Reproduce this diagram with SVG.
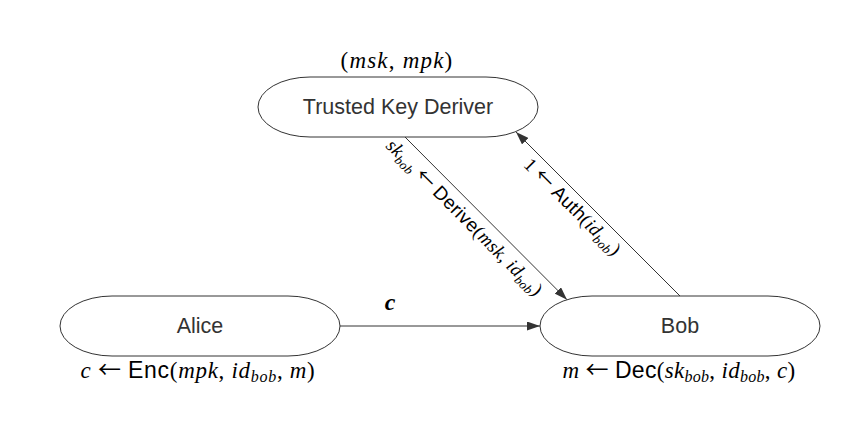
<svg xmlns="http://www.w3.org/2000/svg" width="850" height="445" viewBox="0 0 850 445">
<style>
.node rect{fill:#fff;stroke:#333;stroke-width:1}
.lbl{font-family:"Liberation Sans",Arial,sans-serif;font-size:21.5px;fill:#333;text-anchor:middle}
.m{font-family:"Liberation Serif","DejaVu Serif",serif;fill:#000}
.i{font-style:italic}
.sf{font-family:"Liberation Sans",Arial,sans-serif;font-style:normal}
.ar{font-family:"Noto Sans CJK SC","DejaVu Sans",sans-serif;font-style:normal}
.edge{fill:none;stroke:#333;stroke-width:1}
</style>
<defs>
<marker id="ah" viewBox="0 0 13 9" refX="13" refY="4.5" markerWidth="13" markerHeight="9" markerUnits="userSpaceOnUse" orient="auto">
<path d="M0,0 L13,4.5 L0,9 z" fill="#333"/>
</marker>
</defs>
<rect width="850" height="445" fill="#fff"/>
<g id="connectors">
<path class="edge" d="M340,326 L540,326" marker-end="url(#ah)"/>
<path class="edge" d="M405,137 L567,299.7" marker-end="url(#ah)"/>
<path class="edge" d="M680,296 L516,132" marker-end="url(#ah)"/>
<text class="m i" x="390" y="310" font-size="24" font-weight="bold" text-anchor="middle">c</text>
<g transform="translate(405,137) rotate(45)">
<text class="m" x="99" y="21" font-size="19" text-anchor="middle" letter-spacing="0.3"><tspan class="i">sk</tspan><tspan class="i" font-size="13" dy="4">bob</tspan><tspan dy="-4"> </tspan><tspan class="ar">←</tspan> <tspan class="sf">Derive</tspan>(<tspan class="i">msk</tspan>, <tspan class="i">id</tspan><tspan class="i" font-size="13" dy="4">bob</tspan><tspan dy="-4">)</tspan></text>
</g>
<g transform="translate(516,132) rotate(45)">
<text class="m" x="93" y="19" font-size="19" text-anchor="middle" letter-spacing="0.3">1 <tspan class="ar">←</tspan> <tspan class="sf">Auth</tspan>(<tspan class="i">id</tspan><tspan class="i" font-size="13" dy="4">bob</tspan><tspan dy="-4">)</tspan></text>
</g>
</g>
<g id="trusted" class="node">
<rect x="258" y="77" width="280" height="60" rx="52" ry="30"/>
<text class="lbl" x="398" y="114">Trusted Key Deriver</text>
<text class="m" x="397" y="68" font-size="23" text-anchor="middle" letter-spacing="1.2">(<tspan class="i">msk</tspan>, <tspan class="i">mpk</tspan>)</text>
</g>
<g id="alice" class="node">
<rect x="60" y="296" width="280" height="60" rx="52" ry="30"/>
<text class="lbl" x="200" y="333">Alice</text>
<text class="m" x="198" y="378" font-size="23" text-anchor="middle" letter-spacing="0.7"><tspan class="i">c</tspan> <tspan class="ar">←</tspan> <tspan class="sf">Enc</tspan>(<tspan class="i">mpk</tspan>, <tspan class="i">id</tspan><tspan class="i" font-size="16" dy="4">bob</tspan><tspan dy="-4">, </tspan><tspan class="i">m</tspan>)</text>
</g>
<g id="bob" class="node">
<rect x="540" y="296" width="280" height="60" rx="52" ry="30"/>
<text class="lbl" x="680" y="333">Bob</text>
<text class="m" x="679" y="378" font-size="23" text-anchor="middle" letter-spacing="0.3"><tspan class="i">m</tspan> <tspan class="ar">←</tspan> <tspan class="sf">Dec</tspan>(<tspan class="i">sk</tspan><tspan class="i" font-size="16" dy="4">bob</tspan><tspan dy="-4">, </tspan><tspan class="i">id</tspan><tspan class="i" font-size="16" dy="4">bob</tspan><tspan dy="-4">, </tspan><tspan class="i">c</tspan>)</text>
</g>
</svg>
